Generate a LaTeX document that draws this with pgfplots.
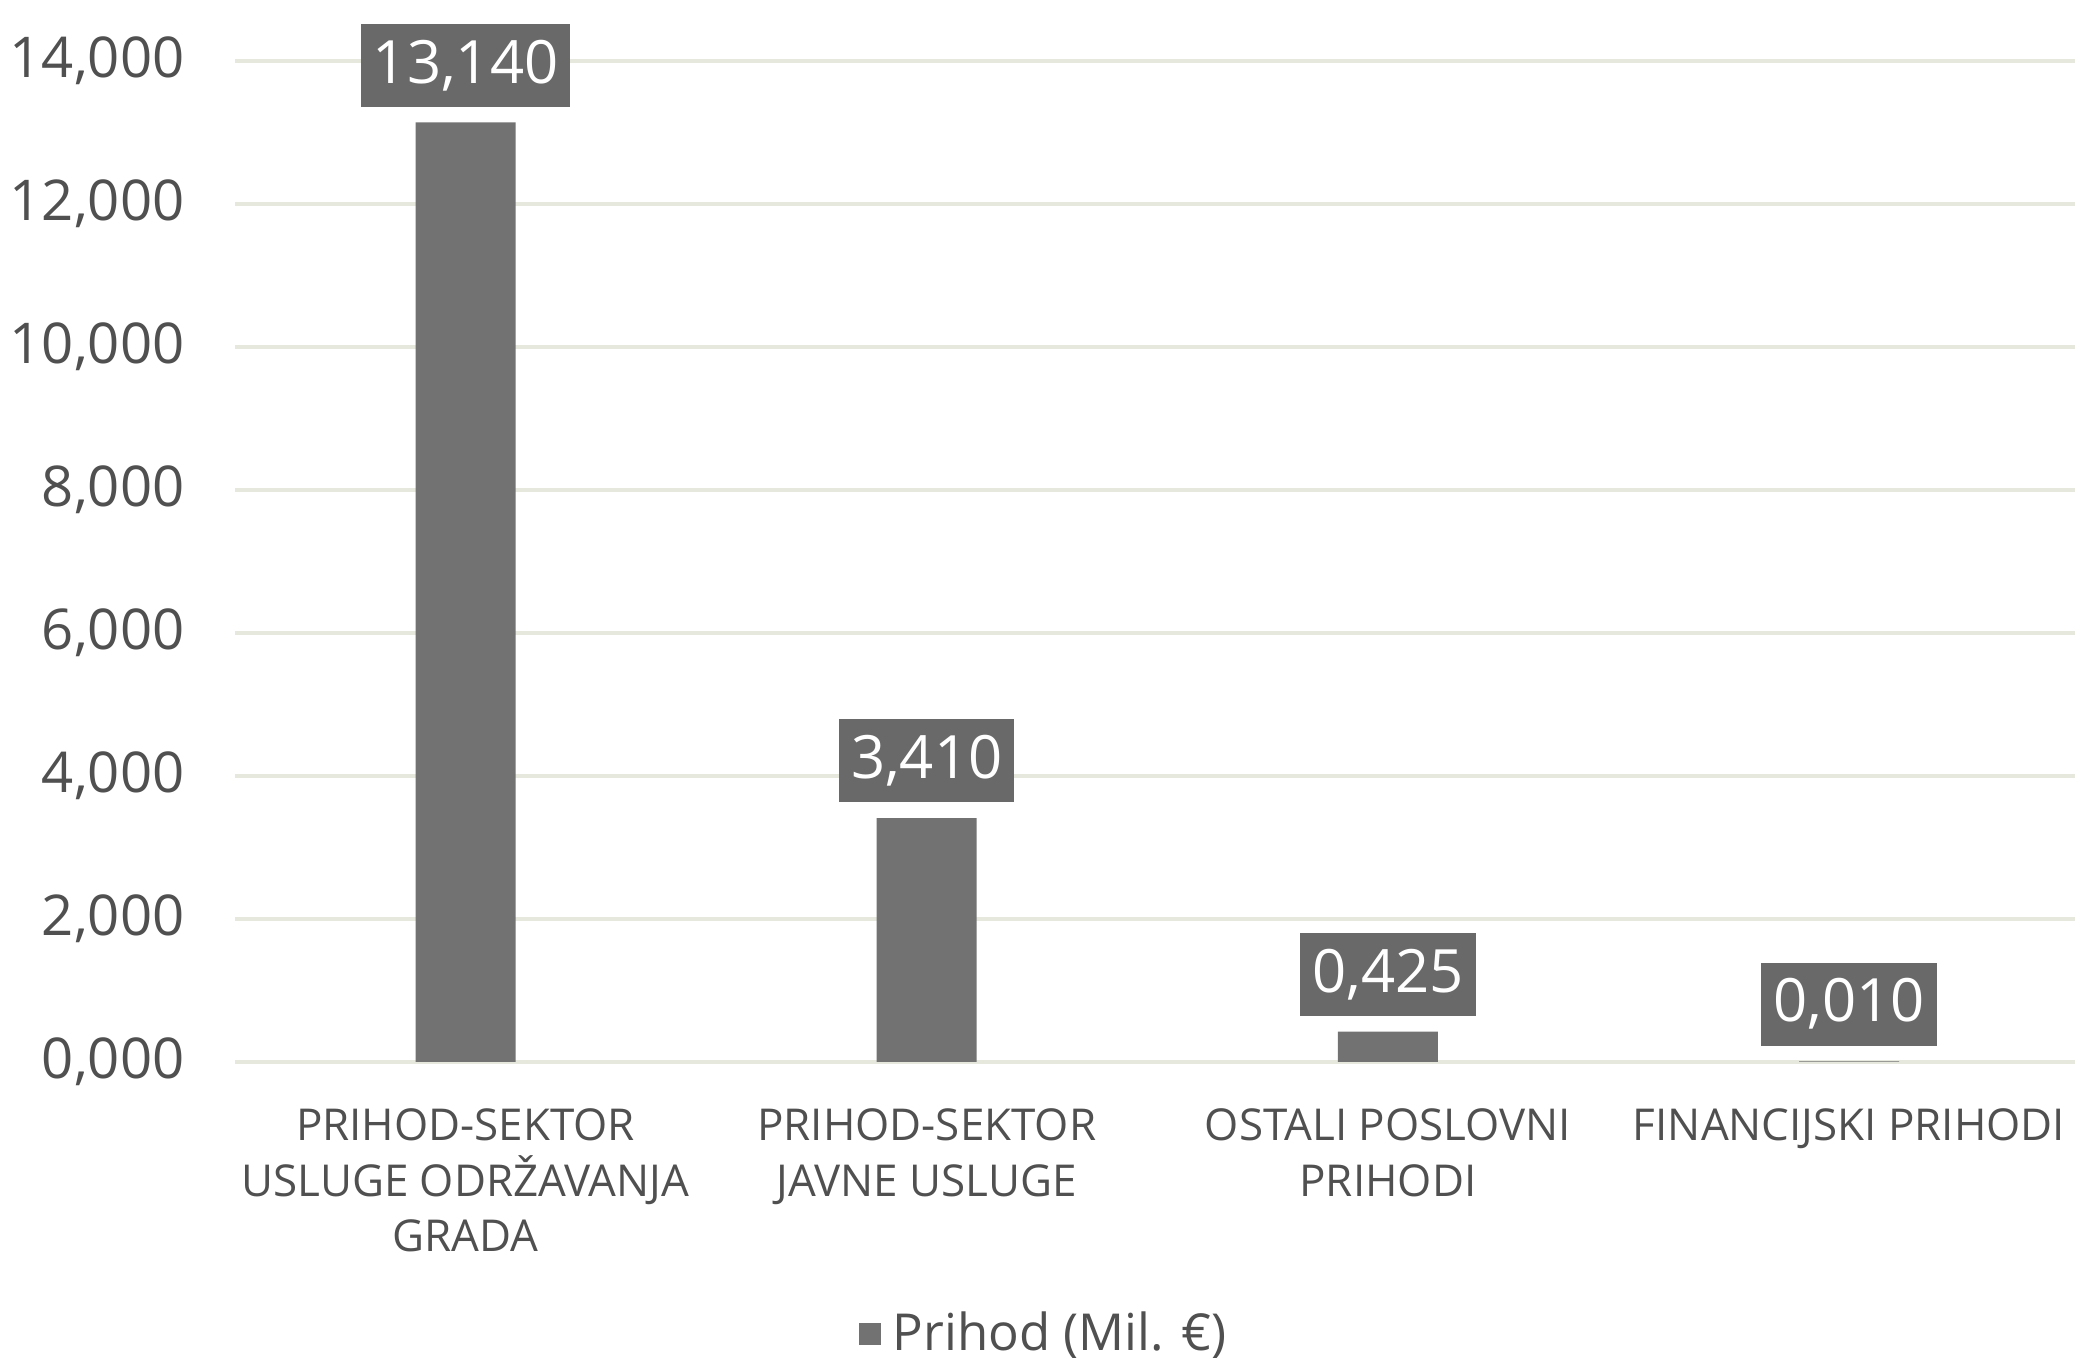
\documentclass[border=0pt]{standalone}
\usepackage{pgfplots}
\pgfplotsset{compat=1.18}
\usepackage{fontspec}
\setmainfont{Open Sans}
\definecolor{barc}{HTML}{727272}
\definecolor{boxc}{HTML}{696969}
\definecolor{gridc}{HTML}{E6E8DE}
\definecolor{txt}{HTML}{505050}
\begin{document}
\begin{tikzpicture}
\path[use as bounding box] (0,0) rectangle (20.75,13.58);
\begin{axis}[
  at={(2.35cm,2.96cm)}, anchor=south west,
  scale only axis, width=18.40cm, height=10.01cm,
  xmin=-0.5, xmax=3.49, ymin=0, ymax=14,
  ybar,
  axis line style={draw=none},
  major tick length=0pt,
  ytick={0,2,...,14},
  xtick={0,1,2,3},
  xticklabels={{PRIHOD-SEKTOR\\USLUGE ODRŽAVANJA\\GRADA},{PRIHOD-SEKTOR\\JAVNE USLUGE},{OSTALI POSLOVNI\\PRIHODI},{FINANCIJSKI PRIHODI}},
  ymajorgrids, grid style={gridc, line width=0.9pt},
  clip=false,
  /pgf/number format/assume math mode=true,
  yticklabel style={font=\fontsize{16}{19}\selectfont, text=txt, anchor=east, inner sep=0pt, xshift=-0.5cm, /pgf/number format/.cd, fixed, fixed zerofill, precision=3, use comma, 1000 sep={}},
  xticklabel style={font=\fontsize{12.5}{15.8}\selectfont, text=txt, align=center, anchor=north, inner sep=0pt, yshift=-0.46cm},
  nodes near coords,
  every node near coord/.append style={fill=boxc, text=white, font=\fontsize{17}{20}\selectfont, inner xsep=0.12cm, inner ysep=0pt, minimum height=0.83cm, anchor=south, yshift=0.15cm, /pgf/number format/.cd, fixed, fixed zerofill, precision=3, use comma},
  legend style={draw=none, at={(0.441,-0.272)}, anchor=center, font=\fontsize{14.5}{17}\selectfont, text=txt},
  legend image code/.code={\fill[barc] (0cm,-0.11cm) rectangle (0.22cm,0.11cm);},
]
\addplot[ybar, bar width=1.0cm, fill=barc, draw=none] coordinates {(0,13.14) (1,3.41) (2,0.425) (3,0.01)};
\addlegendentry{\hspace{0.05cm}Prihod (Mil. €)}
\end{axis}
\end{tikzpicture}
\end{document}
